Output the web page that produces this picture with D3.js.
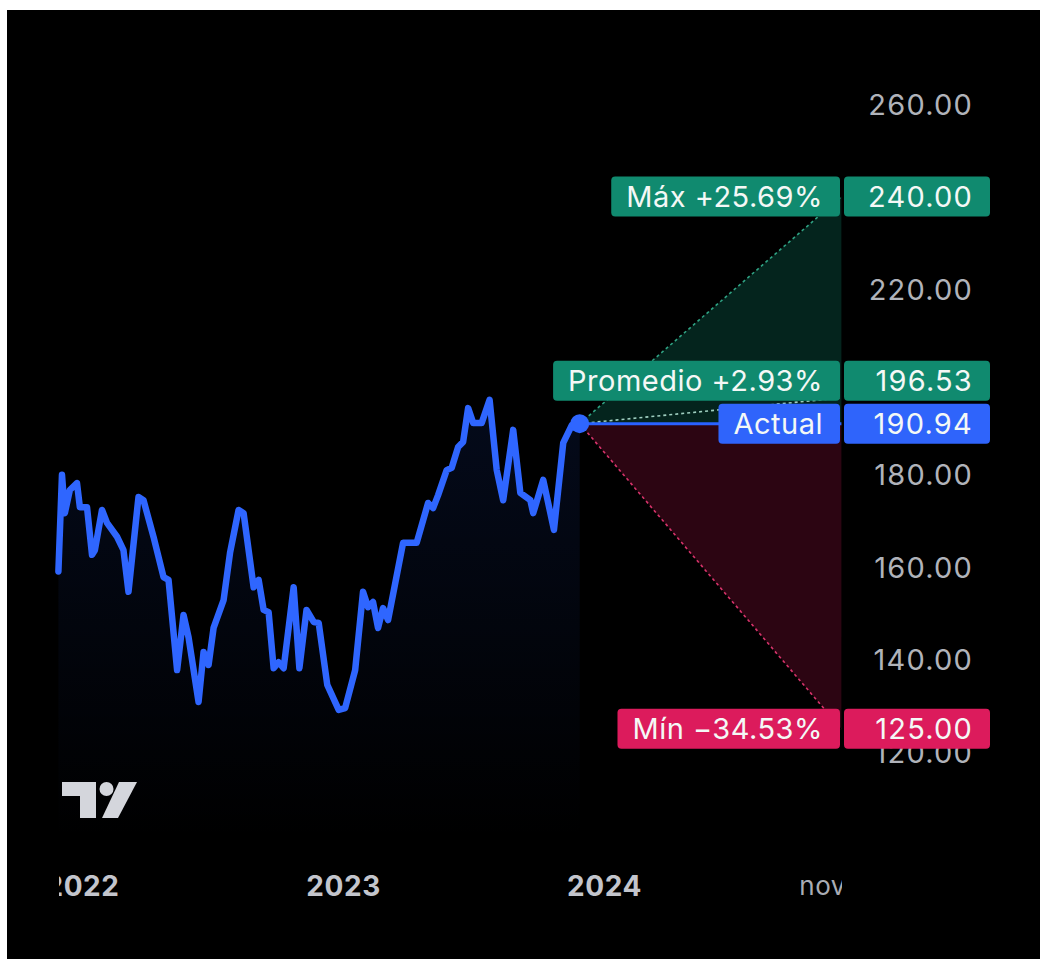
<!DOCTYPE html>
<html>
<head>
<meta charset="utf-8">
<script src="https://cdn.jsdelivr.net/npm/d3@7"></script>
<style>
  html, body { margin: 0; padding: 0; background: #ffffff; }
  svg { display: block; }
  text { font-family: Inter, "Noto Sans", "DejaVu Sans", sans-serif; }
</style>
</head>
<body>
<svg id="chart" width="1040" height="959"></svg>
<script>
// Price history (close), roughly weekly turning points
const dates = [
  "2021-11-29","2021-12-04","2021-12-08","2021-12-15","2021-12-25","2021-12-29",
  "2022-01-08","2022-01-15","2022-01-19","2022-01-29","2022-02-05","2022-02-19",
  "2022-02-28","2022-03-07","2022-03-21","2022-03-28","2022-04-11","2022-04-25",
  "2022-05-02","2022-05-14","2022-05-23","2022-05-30","2022-06-13","2022-06-20",
  "2022-06-27","2022-07-04","2022-07-18","2022-07-27","2022-08-08","2022-08-15",
  "2022-08-29","2022-09-05","2022-09-12","2022-09-19","2022-09-26","2022-10-03",
  "2022-10-10","2022-10-24","2022-11-01","2022-11-11","2022-11-21","2022-11-28",
  "2022-12-10","2022-12-26","2023-01-04","2023-01-18","2023-01-29","2023-02-05",
  "2023-02-12","2023-02-19","2023-02-26","2023-03-05","2023-03-26","2023-04-14",
  "2023-04-30","2023-05-07","2023-05-14","2023-05-26","2023-06-02","2023-06-11",
  "2023-06-18","2023-06-25","2023-07-02","2023-07-14","2023-07-25","2023-08-04",
  "2023-08-13","2023-08-27","2023-09-06","2023-09-20","2023-09-24","2023-10-08",
  "2023-10-23","2023-11-05","2023-11-17","2023-11-28"
];
const prices = [
  159.0, 179.9, 171.6, 176.6, 178.1, 172.9,
  172.9, 162.6, 163.6, 172.3, 169.5, 166.5,
  163.6, 154.6, 175.1, 174.4, 166.5, 157.8,
  157.2, 137.7, 149.6, 144.8, 130.8, 141.6,
  138.8, 146.8, 152.8, 163.0, 172.3, 171.6,
  155.6, 157.2, 150.7, 150.2, 138.1, 139.4,
  138.1, 155.6, 138.1, 150.7, 148.1, 147.9,
  134.5, 129.1, 129.5, 137.7, 154.6, 151.3,
  152.4, 146.8, 151.1, 148.5, 165.2, 165.2,
  173.8, 172.7, 175.5, 180.9, 181.4, 185.9,
  187.0, 194.3, 191.1, 191.1, 196.1, 180.9,
  174.4, 189.6, 176.0, 174.4, 171.6, 178.8,
  168.0, 186.8, 190.6, 190.94
];

// 12-month analyst price targets
const targetDate = "2024-11-28";
const targetMax = 240.00;
const targetAvg = 196.53;
const targetMin = 125.00;

// Axis ticks (levels covered by a target tag are left out)
const priceTicks = [260, 220, 180, 160, 140, 120];
const timeTicks = ["2022-01-01", "2023-01-01", "2024-01-01", "2024-11-01"];
const timeTickLabels = ["2022", "2023", "2024", "nov"];
const timeTickBold = [true, true, true, false];

const parse = d3.timeParse("%Y-%m-%d");
const series = dates.map((d, i) => ({ date: parse(d), price: prices[i] }));
const last = series[series.length - 1];
const current = last.price;
const tDate = parse(targetDate);

const svg = d3.select("#chart");

// dark canvas
svg.append("rect").attr("x", 7).attr("y", 10).attr("width", 1033).attr("height", 949).attr("fill", "#000000");

const plotLeft = 55, plotRight = 842, plotTop = 10, plotBottom = 850;

const x = d3.scaleTime()
  .domain([parse("2022-01-01"), parse("2024-01-01")])
  .range([82, 604]);
const y = d3.scaleLinear()
  .domain([120, 260])
  .range([752, 104]);

const defs = svg.append("defs");
defs.append("clipPath").attr("id", "plotClip")
  .append("rect").attr("x", plotLeft).attr("y", plotTop)
  .attr("width", plotRight - plotLeft).attr("height", plotBottom - plotTop);
defs.append("clipPath").attr("id", "timeClip")
  .append("rect").attr("x", 59).attr("y", 850)
  .attr("width", plotRight - 59).attr("height", 80);

const grad = defs.append("linearGradient").attr("id", "areaFill")
  .attr("gradientUnits", "userSpaceOnUse")
  .attr("x1", 0).attr("x2", 0).attr("y1", y(200)).attr("y2", 840);
grad.append("stop").attr("offset", 0).attr("stop-color", "#2962ff").attr("stop-opacity", 0.11);
grad.append("stop").attr("offset", 1).attr("stop-color", "#2962ff").attr("stop-opacity", 0.0);

const numFont = { size: 29, spacing: 1.2 };
const tagFont = { size: 29, spacing: 0.5 };

// price axis tick labels
const yAxis = d3.axisRight(y).tickValues(priceTicks).tickFormat(d3.format(".2f")).tickSize(0);
const yAxisG = svg.append("g").attr("transform", `translate(${plotRight},0)`).call(yAxis);
yAxisG.select(".domain").remove();
yAxisG.selectAll("text")
  .attr("x", 131).attr("dy", "0.35em")
  .attr("text-anchor", "end")
  .attr("fill", "#b0b3ba")
  .attr("font-size", numFont.size)
  .attr("letter-spacing", numFont.spacing)
  .attr("font-family", "Inter, sans-serif");

// time axis
const xAxis = d3.axisBottom(x)
  .tickValues(timeTicks.map(parse))
  .tickFormat((d, i) => timeTickLabels[i])
  .tickSize(0);
const xAxisG = svg.append("g").attr("clip-path", "url(#timeClip)")
  .append("g").attr("transform", "translate(0,886)").call(xAxis);
xAxisG.select(".domain").remove();
xAxisG.selectAll("text")
  .attr("y", 0).attr("dy", "0.35em")
  .attr("fill", (d, i) => timeTickBold[i] ? "#c3c5cc" : "#a9acb4")
  .attr("font-weight", (d, i) => timeTickBold[i] ? 700 : 400)
  .attr("font-size", (d, i) => timeTickBold[i] ? 28 : 26)
  .attr("letter-spacing", 0.6)
  .attr("font-family", "Inter, sans-serif");

const plot = svg.append("g").attr("clip-path", "url(#plotClip)");

// forecast cones
const x0 = x(last.date), y0 = y(current), xT = x(tDate);
plot.append("path")
  .attr("d", d3.line()([[x0, y0], [xT, y(targetMax)], [xT, y0]]))
  .attr("fill", "#0f8c70").attr("fill-opacity", 0.26);
plot.append("path")
  .attr("d", d3.line()([[x0, y0], [xT, y0], [xT, y(targetMin)]]))
  .attr("fill", "#dd1a5c").attr("fill-opacity", 0.2);

const dashed = [
  { v: targetMax, c: "#2fa283" },
  { v: targetAvg, c: "#9fcfc0" },
  { v: targetMin, c: "#d8336b" }
];
plot.selectAll("line.target").data(dashed).join("line")
  .attr("class", "target")
  .attr("x1", x0).attr("y1", y0)
  .attr("x2", xT).attr("y2", d => y(d.v))
  .attr("stroke", d => d.c).attr("stroke-width", 1.6)
  .attr("stroke-dasharray", "3,3");

// current price level
plot.append("line")
  .attr("x1", x0).attr("y1", y0).attr("x2", xT).attr("y2", y0)
  .attr("stroke", "#2962ff").attr("stroke-width", 3);

// area + line
plot.append("path").datum(series)
  .attr("d", d3.area().x(d => x(d.date)).y0(840).y1(d => y(d.price)))
  .attr("fill", "url(#areaFill)");
plot.append("path").datum(series)
  .attr("d", d3.line().x(d => x(d.date)).y(d => y(d.price)))
  .attr("fill", "none").attr("stroke", "#2f66ff")
  .attr("stroke-width", 6.5).attr("stroke-linejoin", "round").attr("stroke-linecap", "round");
plot.append("circle").attr("cx", x0).attr("cy", y0).attr("r", 9.5).attr("fill", "#2f66ff");

// TradingView mark
const logo = svg.append("g").attr("fill", "#d4d6dc");
logo.append("path").attr("d", "M62,782 H96 V818 H80 V796 H62 Z");
logo.append("circle").attr("cx", 106.5).attr("cy", 789).attr("r", 7);
logo.append("path").attr("d", "M119,782 H137 L118,818 H102 Z");

// price tags
const fmtPct = d3.format("+.2f");
const fmtPrice = d3.format(".2f");
const boxH = 40, gap = 3;
const tags = [
  { name: "Máx", v: targetMax, pct: true, color: "#108a6f" },
  { name: "Promedio", v: targetAvg, pct: true, color: "#108a6f" },
  { name: "Actual", v: current, pct: false, color: "#2f64fb" },
  { name: "Mín", v: targetMin, pct: true, color: "#dc1b5c" }
];
tags.forEach(t => { t.cy = y(t.v); });
// keep the average tag clear of the current price tag
const avgTag = tags[1], curTag = tags[2];
if (Math.abs(avgTag.cy - curTag.cy) < boxH + gap) {
  avgTag.cy = avgTag.v >= curTag.v ? curTag.cy - boxH - gap : curTag.cy + boxH + gap;
}

const tagG = svg.append("g");
tags.forEach(t => {
  const g = tagG.append("g");
  const label = t.pct ? `${t.name} ${fmtPct((t.v / current - 1) * 100)}%` : t.name;
  const txt = g.append("text")
    .attr("x", plotRight - 2 - 17).attr("y", t.cy).attr("dy", "0.35em")
    .attr("text-anchor", "end").attr("fill", "#f4f8f6")
    .attr("font-size", tagFont.size).attr("letter-spacing", tagFont.spacing)
    .text(label);
  const w = txt.node().getComputedTextLength();
  g.insert("rect", "text")
    .attr("x", plotRight - 2 - 17 - w - 15).attr("y", t.cy - boxH / 2)
    .attr("width", w + 32).attr("height", boxH).attr("rx", 4)
    .attr("fill", t.color);
  g.append("rect")
    .attr("x", plotRight + 2).attr("y", t.cy - boxH / 2)
    .attr("width", 146).attr("height", boxH).attr("rx", 4)
    .attr("fill", t.color);
  g.append("text")
    .attr("x", plotRight + 131).attr("y", t.cy).attr("dy", "0.35em")
    .attr("text-anchor", "end").attr("fill", "#f4f8f6")
    .attr("font-size", numFont.size).attr("letter-spacing", numFont.spacing)
    .text(fmtPrice(t.v));
});
</script>
</body>
</html>
